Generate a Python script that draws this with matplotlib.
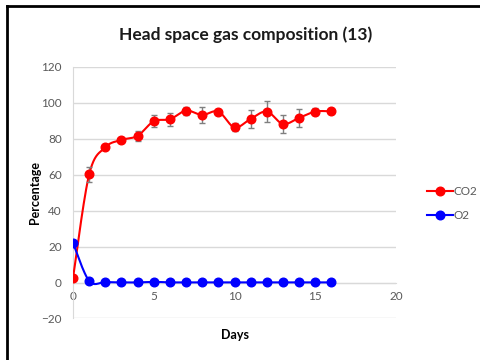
import numpy as np
import matplotlib
matplotlib.use("Agg")
import matplotlib.pyplot as plt
from matplotlib.lines import Line2D

plt.rcParams['font.family'] = ['Lato', 'DejaVu Sans']

# Head space readings, % of gas by day
days = [0, 1, 2, 3, 4, 5, 6, 7, 8, 9, 10, 11, 12, 13, 14, 15, 16]
co2 = [2.6, 60.2, 75.3, 79.4, 81.7, 89.8, 90.9, 95.7, 93.3, 95.2, 86.4, 91.1,
       95.2, 88.3, 91.7, 95.2, 95.3]
co2_err = [0, 4.4, 0.8, 0.8, 2.8, 3.4, 3.6, 2.3, 4.6, 0, 2.3, 4.8, 6.0, 5.2,
           5.0, 1.9, 0]
o2 = [22.0, 0.9, 0.3, 0.1, 0.1, 0.4, 0.1, 0.1, 0.1, 0.1, 0.1, 0.1, 0.1, 0.1,
      0.1, 0.1, 0.1]

x_ticks = [0, 5, 10, 15, 20]
y_ticks = [-20, 0, 20, 40, 60, 80, 100, 120]


def smooth(x, y, n=24):
    # Catmull-Rom curve through the points, like a spreadsheet "smoothed line"
    x = np.asarray(x, float)
    y = np.asarray(y, float)
    px = np.concatenate([[x[0]], x, [x[-1]]])
    py = np.concatenate([[y[0]], y, [y[-1]]])
    xs, ys = [], []
    t = np.linspace(0, 1, n)
    for i in range(1, len(px) - 2):
        for p, out in ((px, xs), (py, ys)):
            p0, p1, p2, p3 = p[i - 1], p[i], p[i + 1], p[i + 2]
            m1 = (p2 - p0) / 2
            m2 = (p3 - p1) / 2
            h00 = 2 * t**3 - 3 * t**2 + 1
            h10 = t**3 - 2 * t**2 + t
            h01 = -2 * t**3 + 3 * t**2
            h11 = t**3 - t**2
            out.extend(h00 * p1 + h10 * m1 + h01 * p2 + h11 * m2)
    return np.array(xs), np.array(ys)


fig = plt.figure(figsize=(4.81, 3.6), dpi=100)
ax = fig.add_axes([0.1518, 0.1153, 0.6715, 0.6986])

grid_col = '#d9d9d9'
text_col = '#595959'
ms = 6.2

sx, sy = smooth(days, co2)
ax.plot(sx, sy, color='red', lw=1.5, zorder=3)
ax.errorbar(days, co2, yerr=co2_err, fmt='none', ecolor='#7f7f7f',
            elinewidth=1, capsize=2.5, capthick=1, zorder=4)
ax.plot(days, co2, 'o', color='red', ms=ms, zorder=5)

sx, sy = smooth(days, o2)
ax.plot(sx, sy, color='blue', lw=1.5, zorder=3)
ax.plot(days, o2, 'o', color='blue', ms=ms, zorder=5)

ax.set_xlim(0, 20)
ax.set_ylim(-20, 120)
ax.set_xticks(x_ticks)
ax.set_yticks(y_ticks)
ax.yaxis.grid(True, color=grid_col, lw=1)
ax.set_axisbelow(True)

for side in ('top', 'right'):
    ax.spines[side].set_visible(False)
ax.spines['left'].set_color(grid_col)
ax.spines['bottom'].set_color(grid_col)
ax.spines['bottom'].set_position(('data', 0))
ax.tick_params(length=0, labelsize=8.5, labelcolor=text_col)
ax.tick_params(axis='x', pad=6)
ax.tick_params(axis='y', pad=8)

ax.set_xlabel('Days', fontsize=9, fontweight='bold')
ax.xaxis.set_label_coords(0.5, -0.04)
ax.set_ylabel('Percentage', fontsize=9, fontweight='bold')
ax.yaxis.set_label_coords(-0.1, 0.5)

fig.text(0.51, 0.903, 'Head space gas composition (13)', ha='center',
         va='center', fontsize=12.5, fontweight='bold', color='#1a1a1a')

handles = [Line2D([], [], color='red', marker='o', lw=1.5, ms=ms),
           Line2D([], [], color='blue', marker='o', lw=1.5, ms=ms)]
leg = fig.legend(handles, ['CO2', 'O2'], loc='upper left',
                 bbox_to_anchor=(0.865, 0.513), frameon=False, fontsize=8.5,
                 handlelength=2.2, handletextpad=0.1, labelspacing=1.1)
for t in leg.get_texts():
    t.set_color(text_col)

# frame lines along the top and left edge
fig.add_artist(Line2D([0.0146, 1.0], [0.983, 0.983], color='black', lw=2,
                      transform=fig.transFigure))
fig.add_artist(Line2D([0.0146, 0.0146], [0.0, 0.983], color='black', lw=2,
                      transform=fig.transFigure))

fig.savefig('out.png', dpi=100)
